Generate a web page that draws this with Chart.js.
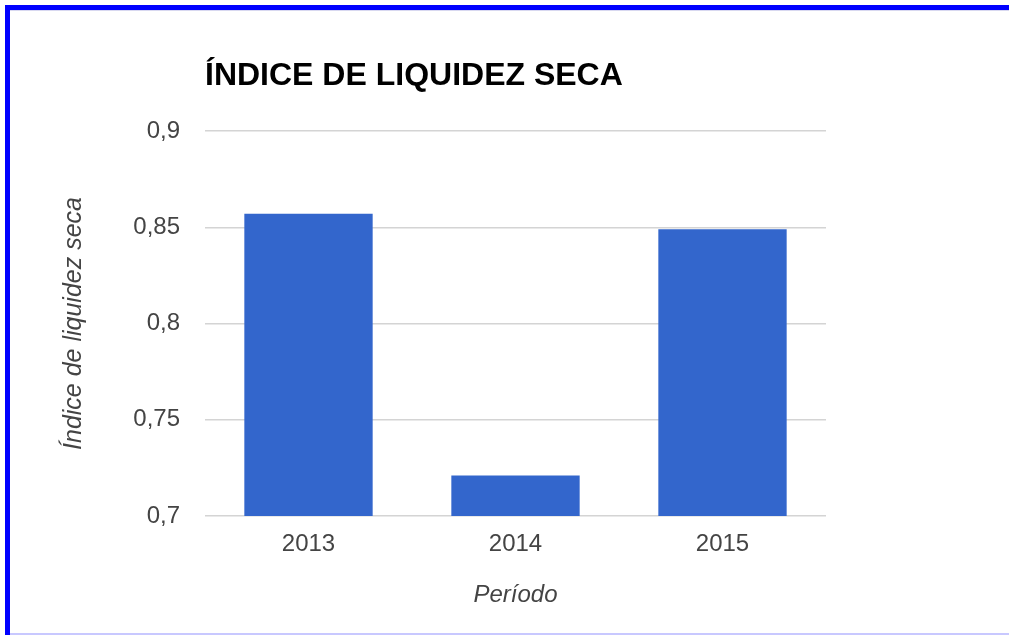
<!DOCTYPE html>
<html>
<head>
<meta charset="utf-8">
<script src="https://cdn.jsdelivr.net/npm/chart.js@4"></script>
<style>
  html, body { margin: 0; padding: 0; background: #ffffff; }
  #wrap { position: relative; width: 1009px; height: 635px; overflow: hidden; background: #fff; }
  #frame { position: absolute; left: 5px; top: 5px; width: 1010px; height: 640px;
           border-left: 5px solid #0000ff; border-top: 5px solid #0000ff; box-sizing: border-box; }
  #frameInner { position: absolute; left: 10px; top: 10px; width: 1000px; height: 1px; background: #d8d8f0; }
  #bottomLine { position: absolute; left: 10px; top: 633px; width: 1000px; height: 2px; background: #c8c8ff; }
  canvas { position: absolute; left: 0; top: 0; }
</style>
</head>
<body>
<div id="wrap">
  <div id="frame"></div>
  <div id="frameInner"></div>
  <div id="bottomLine"></div>
  <canvas id="c" width="1009" height="635"></canvas>
</div>
<script>
const categories = ["2013", "2014", "2015"];
const values = [0.857, 0.721, 0.849];
const yTicks = [0.7, 0.75, 0.8, 0.85, 0.9];
const yTickLabels = ["0,7", "0,75", "0,8", "0,85", "0,9"];
const chartTitle = "ÍNDICE DE LIQUIDEZ SECA";
const yTitle = "Índice de liquidez seca";
const xTitle = "Período";

const FONT = "'Liberation Sans', Arial, sans-serif";

new Chart(document.getElementById('c'), {
  type: 'bar',
  data: {
    labels: categories,
    datasets: [{
      data: values,
      backgroundColor: '#3366cc',
      borderWidth: 0,
      barPercentage: 0.62,
      categoryPercentage: 1.0
    }]
  },
  options: {
    responsive: false,
    animation: false,
    devicePixelRatio: 1,
    layout: { padding: { left: 55, right: 183, top: 0, bottom: 21.6 } },
    plugins: {
      legend: { display: false },
      tooltip: { enabled: false },
      title: {
        display: true,
        text: chartTitle,
        align: 'start',
        fullSize: false,
        color: '#000000',
        font: { family: FONT, size: 32, weight: 'bold', lineHeight: 1.2 },
        padding: { top: 56.8, bottom: 35.8 }
      }
    },
    scales: {
      x: {
        grid: { display: false, drawTicks: false },
        border: { display: false },
        ticks: { color: '#444444', font: { family: FONT, size: 24 }, padding: 14 },
        title: {
          display: true, text: xTitle, color: '#444444',
          font: { family: FONT, size: 24, style: 'italic' },
          padding: { top: 4, bottom: 4 }
        },
        afterFit: (s) => { s.height = 97.4; }
      },
      y: {
        min: 0.7, max: 0.9,
        afterBuildTicks: (s) => { s.ticks = yTicks.map(v => ({ value: v })); },
        ticks: {
          color: '#444444',
          font: { family: FONT, size: 24 },
          padding: 25,
          callback: (v) => { const i = yTicks.findIndex(t => Math.abs(t - v) < 1e-9); return i >= 0 ? yTickLabels[i] : ''; }
        },
        grid: { color: '#d4d4d4', lineWidth: 1.5, drawTicks: false },
        border: { display: false },
        title: {
          display: true, text: yTitle, color: '#444444',
          font: { family: FONT, size: 25, style: 'italic' },
          padding: { top: 4, bottom: 4 }
        },
        afterFit: (s) => { s.width = 150; }
      }
    }
  }
});
</script>
</body>
</html>
